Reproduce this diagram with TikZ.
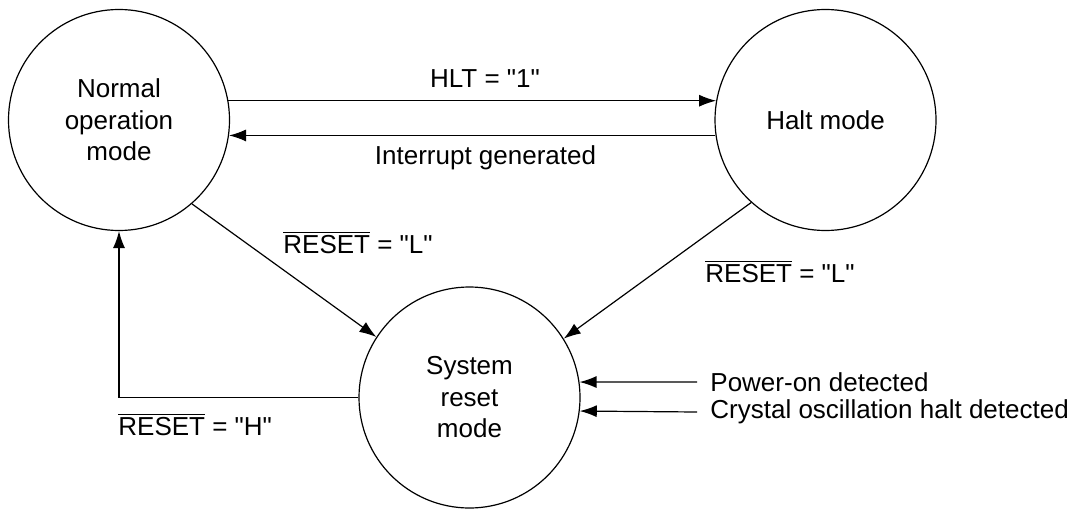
\documentclass[tikz,border=0pt]{standalone}
\usepackage{fontspec}
\setmainfont{Liberation Sans}
\usetikzlibrary{arrows.meta}

\begin{document}
\begin{tikzpicture}[x=0.5pt, y=-0.5pt, font={\fontsize{13}{15.75}\selectfont},
    state/.style={draw, circle, line width=0.6pt, minimum size=110.5pt, inner sep=0pt, align=center},
    lbl/.style={inner sep=0pt},
    arr/.style={-{Latex[length=8.5pt,width=6pt]}, line width=0.6pt}]
            \useasboundingbox (0,0) rectangle (1085,508);

            \node[state] (normal) at (119,120) {Normal\\operation\\mode};
            \node[state] (halt) at (825.5,120) {Halt mode};
            \node[state] (reset) at (469.5,397.5) {System\\reset\\mode};

            \node[lbl, anchor=base] (hltlbl) at (485,88) {HLT = \textquotedbl 1\textquotedbl};
            \node[lbl, anchor=base] (intlbl) at (485.5,164) {Interrupt generated};
            \node[lbl, anchor=base west] (lowleft) at (283,253) {$\overline{\mbox{RESET}}$ = \textquotedbl L\textquotedbl};
            \node[lbl, anchor=base west] (lowright) at (705,282) {$\overline{\mbox{RESET}}$ = \textquotedbl L\textquotedbl};
            \node[lbl, anchor=base west] (highleft) at (118,435) {$\overline{\mbox{RESET}}$ = \textquotedbl H\textquotedbl};
            \node[anchor=west, inner xsep=6.5pt] (poweron) at (697,382) {Power-on detected};
            \node[anchor=west, inner xsep=6.5pt] (crystal) at (697,412) {Crystal oscillation halt detected};

            \draw[arr] (normal.10) -- (halt.170);
            \draw[arr] (halt.188) -- (normal.-8);
            \draw[arr] (normal.-49) -- (reset.147);
            \draw[arr] (halt.228.5) -- (reset.32.5);
            \draw[arr] (reset.west) -| (normal.south);
            \draw[arr] (poweron.west) -- (reset.8);
            \draw[arr] (crystal.west) -- (reset.-7.6);
        \end{tikzpicture}
\end{document}
